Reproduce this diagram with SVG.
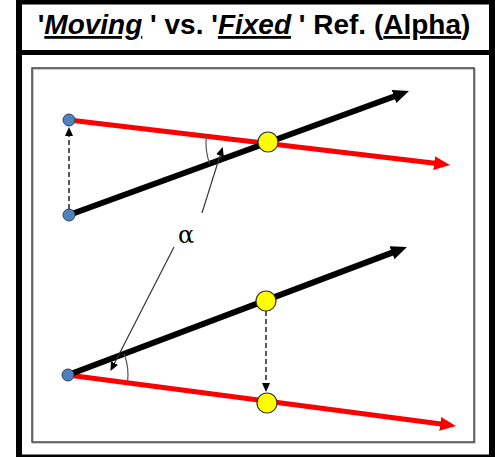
<svg xmlns="http://www.w3.org/2000/svg" width="495" height="457" viewBox="0 0 495 457">
<defs>
<style>
.title{font-family:"Liberation Sans",Arial,sans-serif;font-weight:bold;font-size:28px;fill:#000}
.u{text-decoration:underline}
.it{font-style:italic}
.red{stroke:#ff0000;stroke-width:5;fill:none}
.blk{stroke:#000;stroke-width:6;fill:none}
.dash{stroke:#222;stroke-width:1.5;stroke-dasharray:5 3;fill:none}
.ptr{stroke:#333;stroke-width:1.2;fill:none}
.arc{stroke:#555;stroke-width:1.2;fill:none}
.blue{fill:#4f81bd;stroke:#2a3f5f;stroke-width:1}
.yel{fill:#ffff00;stroke:#333;stroke-width:1.2}
</style>
<marker id="ahRed" markerUnits="userSpaceOnUse" markerWidth="18" markerHeight="16" refX="3" refY="7" orient="auto">
<path d="M0,0 L16,7 L0,14 z" fill="#ff0000"/>
</marker>
<marker id="ahBlk" markerUnits="userSpaceOnUse" markerWidth="18" markerHeight="16" refX="3" refY="7" orient="auto">
<path d="M0,0 L16,7 L0,14 z" fill="#000"/>
</marker>
<marker id="ahSm" markerUnits="userSpaceOnUse" markerWidth="10" markerHeight="10" refX="1" refY="4" orient="auto">
<path d="M0,0 L9,4 L0,8 z" fill="#000"/>
</marker>
</defs>
<rect width="495" height="457" fill="#fff"/>
<g id="frame">
<rect x="19" y="1.5" width="473" height="456" fill="none" stroke="#000" stroke-width="6"/>
<line x1="16" y1="52.5" x2="495" y2="52.5" stroke="#000" stroke-width="5"/>
<rect x="33" y="69" width="442" height="374" fill="none" stroke="#bbb" stroke-width="1.5"/>
<rect x="32" y="68" width="442" height="374" fill="none" stroke="#444" stroke-width="1.5"/>
</g>
<g id="title">
<text class="title" x="254" y="34" text-anchor="middle">'<tspan class="it u">Moving</tspan> ' vs. '<tspan class="it u">Fixed</tspan> ' Ref. (<tspan class="u">Alpha</tspan>)</text>
</g>
<g id="connectors">
<line class="red" x1="69" y1="120" x2="437.1" y2="163.5" marker-end="url(#ahRed)"/>
<line class="blk" x1="69" y1="215" x2="396.8" y2="95.5" marker-end="url(#ahBlk)"/>
<line class="dash" x1="69" y1="209" x2="69" y2="135" marker-end="url(#ahSm)"/>
<path class="arc" d="M206.4,136 A60,60 0 0 0 209.6,163.6"/>
<line class="ptr" x1="202" y1="213" x2="220.3" y2="154.6" marker-end="url(#ahSm)"/>
<line class="red" x1="68" y1="375" x2="443.1" y2="424.3" marker-end="url(#ahRed)"/>
<line class="blk" x1="68" y1="375" x2="394.8" y2="251.6" marker-end="url(#ahBlk)"/>
<line class="dash" x1="266" y1="311" x2="266" y2="384" marker-end="url(#ahSm)"/>
<path class="arc" d="M124.1,353.8 A60,60 0 0 1 127.5,382.8"/>
<line class="ptr" x1="174" y1="247" x2="114.1" y2="364" marker-end="url(#ahSm)"/>
</g>
<g id="n-top-blue1"><circle class="blue" cx="69" cy="120" r="6"/></g>
<g id="n-top-blue2"><circle class="blue" cx="69" cy="215" r="6"/></g>
<g id="n-top-yellow"><circle class="yel" cx="268" cy="142" r="10"/></g>
<g id="n-bot-blue"><circle class="blue" cx="68" cy="375" r="6"/></g>
<g id="n-bot-yellow1"><circle class="yel" cx="266" cy="301" r="10"/></g>
<g id="n-bot-yellow2"><circle class="yel" cx="267" cy="403" r="10"/></g>
<g id="alpha"><text x="186" y="243" text-anchor="middle" font-family="'DejaVu Serif',serif" font-size="24" fill="#000">α</text></g>
</svg>
